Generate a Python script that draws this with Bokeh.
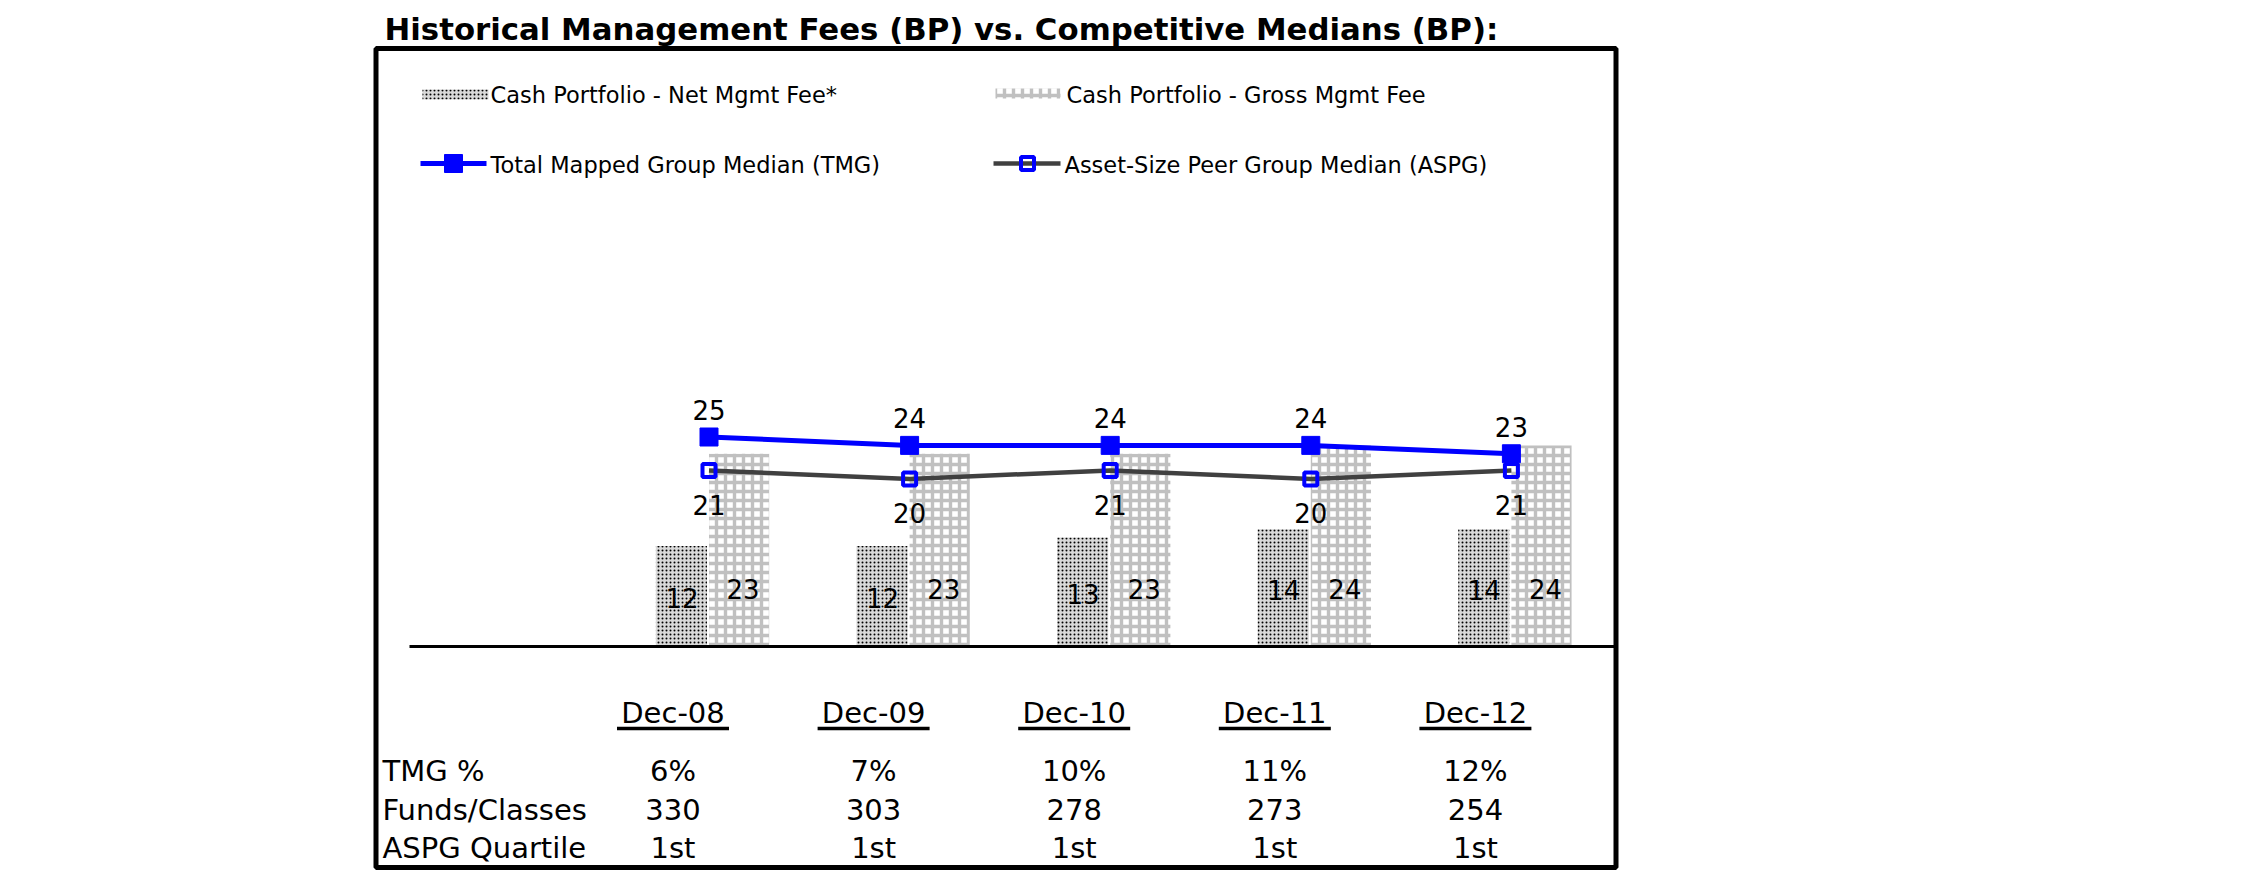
from bokeh.plotting import figure
from bokeh.models import Range1d
from bokeh.core.properties import value
from bokeh.embed import file_html
from bokeh.resources import INLINE

# ---------------- data ----------------
periods = ["Dec-08", "Dec-09", "Dec-10", "Dec-11", "Dec-12"]
net_fee = [12, 12, 13, 14, 14]
gross_fee = [23, 23, 23, 24, 24]
tmg_median = [25, 24, 24, 24, 23]
aspg_median = [21, 20, 21, 20, 21]
tmg_pct = ["6%", "7%", "10%", "11%", "12%"]
funds_classes = [330, 303, 278, 273, 254]
aspg_quartile = ["1st", "1st", "1st", "1st", "1st"]
row_labels = ["TMG %", "Funds/Classes", "ASPG Quartile"]
title_text = "Historical Management Fees (BP) vs. Competitive Medians (BP):"
legend_labels = ["Cash Portfolio - Net Mgmt Fee*", "Cash Portfolio - Gross Mgmt Fee",
                 "Total Mapped Group Median (TMG)", "Asset-Size Peer Group Median (ASPG)"]

# ---------------- layout (page pixels) ----------------
PAGE = 0
W, H = 1640, 886
X0_PX, X_STEP = 708.5, 200.6   # page x of first category centre, px per category
Y0_PX, Y_STEP = 646.0, 8.38    # page y of value 0, px per BP

def fx(px):
    return (px - X0_PX) / X_STEP

def fy(py):
    return (Y0_PX - py) / Y_STEP

FONT = value("DejaVu Sans")
BLUE = "#0000FF"
GRAY_LINE = "#404040"
HATCH_GRAY = "#c0c0c0"

p = figure(width=W, height=H,
           x_range=Range1d(fx(PAGE), fx(PAGE + W)),
           y_range=Range1d(fy(PAGE + H), fy(PAGE)),
           output_backend="svg", toolbar_location=None,
           x_axis_location=None, y_axis_location=None,
           min_border=0)
p.grid.visible = False
p.outline_line_color = None
p.background_fill_color = "white"
p.border_fill_color = "white"

idx = list(range(len(periods)))

net_style = dict(fill_color="#d9d9d9", line_color=None, hatch_pattern="dot",
                 hatch_color="#000000", hatch_scale=4, hatch_weight=3.2)
gross_style = dict(fill_color="white", line_color=None, hatch_pattern="cross",
                   hatch_color=HATCH_GRAY, hatch_scale=9, hatch_weight=3.4)

# ---------------- bars ----------------
p.quad(left=[i - 0.265 for i in idx], right=[i - 0.01 for i in idx],
       bottom=0, top=net_fee, **net_style)
p.quad(left=idx, right=[i + 0.30 for i in idx],
       bottom=0, top=gross_fee, **gross_style)

# baseline
p.segment(x0=[fx(409)], y0=[0], x1=[fx(1614)], y1=[0], line_color="black", line_width=3)

# ---------------- lines ----------------
p.line(idx, aspg_median, line_color=GRAY_LINE, line_width=4.5)
p.line(idx, tmg_median, line_color=BLUE, line_width=5)
p.scatter(idx, tmg_median, marker="square", size=18, fill_color=BLUE, line_color=BLUE)
p.scatter(idx, aspg_median, marker="square", size=13, fill_color=None,
          line_color=BLUE, line_width=4)

lab = dict(text_font=FONT, text_font_size="26px", text_color="black",
           text_align="center", text_baseline="middle")
p.text(idx, tmg_median, text=[str(v) for v in tmg_median], y_offset=-27, **lab)
p.text(idx, aspg_median, text=[str(v) for v in aspg_median], y_offset=34, **lab)
p.text([i - 0.135 for i in idx], [v / 2 for v in net_fee], text=[str(v) for v in net_fee],
       y_offset=2, **lab)
p.text([i + 0.17 for i in idx], [0] * len(idx), text=[str(v) for v in gross_fee],
       y_offset=-58, **lab)

# ---------------- frame box ----------------
p.quad(left=[fx(375.5)], right=[fx(1615.5)], top=[fy(48)], bottom=[fy(867)],
       fill_color=None, line_color="black", line_width=5)

# ---------------- title ----------------
p.text([fx(384)], [fy(28)], text=[title_text], text_font=FONT, text_font_size="30.8px",
       text_font_style="bold", text_align="left", text_baseline="middle",
       text_color="black")

# ---------------- legend ----------------
p.quad(left=[fx(422)], right=[fx(488)], top=[fy(89)], bottom=[fy(99)], **net_style)
p.quad(left=[fx(995)], right=[fx(1060)], top=[fy(88)], bottom=[fy(98)], **gross_style)
p.line([fx(420), fx(486)], [fy(163), fy(163)], line_color=BLUE, line_width=5)
p.scatter([fx(453)], [fy(163)], marker="square", size=18, fill_color=BLUE, line_color=BLUE)
p.line([fx(993), fx(1060)], [fy(163), fy(163)], line_color=GRAY_LINE, line_width=4.5)
p.scatter([fx(1027)], [fy(163)], marker="square", size=13, fill_color=None,
          line_color=BLUE, line_width=4)
leg = dict(text_font=FONT, text_font_size="22.5px", text_color="black",
           text_align="left", text_baseline="middle")
p.text([fx(490), fx(1066), fx(490), fx(1064)], [fy(94), fy(94), fy(164), fy(164)],
       text=legend_labels, **leg)

# ---------------- table ----------------
tab = dict(text_font=FONT, text_font_size="29px", text_color="black",
           text_baseline="middle")
p.text(idx, [fy(712)] * len(idx), text=periods, x_offset=-36, text_align="center", **tab)
p.segment(x0=[i - 36 / X_STEP - 56 / X_STEP for i in idx], y0=[fy(728)] * len(idx),
          x1=[i - 36 / X_STEP + 56 / X_STEP for i in idx], y1=[fy(728)] * len(idx),
          line_color="black", line_width=3.5)
row_y = [fy(770), fy(809), fy(847)]
p.text([fx(382)] * 3, row_y, text=row_labels, text_align="left", **tab)
p.text(idx, [row_y[0]] * 5, text=tmg_pct, x_offset=-36, text_align="center", **tab)
p.text(idx, [row_y[1]] * 5, text=[str(v) for v in funds_classes], x_offset=-36,
       text_align="center", **tab)
p.text(idx, [row_y[2]] * 5, text=aspg_quartile, x_offset=-36, text_align="center", **tab)

open("out.html", "w").write(file_html(p, INLINE))
